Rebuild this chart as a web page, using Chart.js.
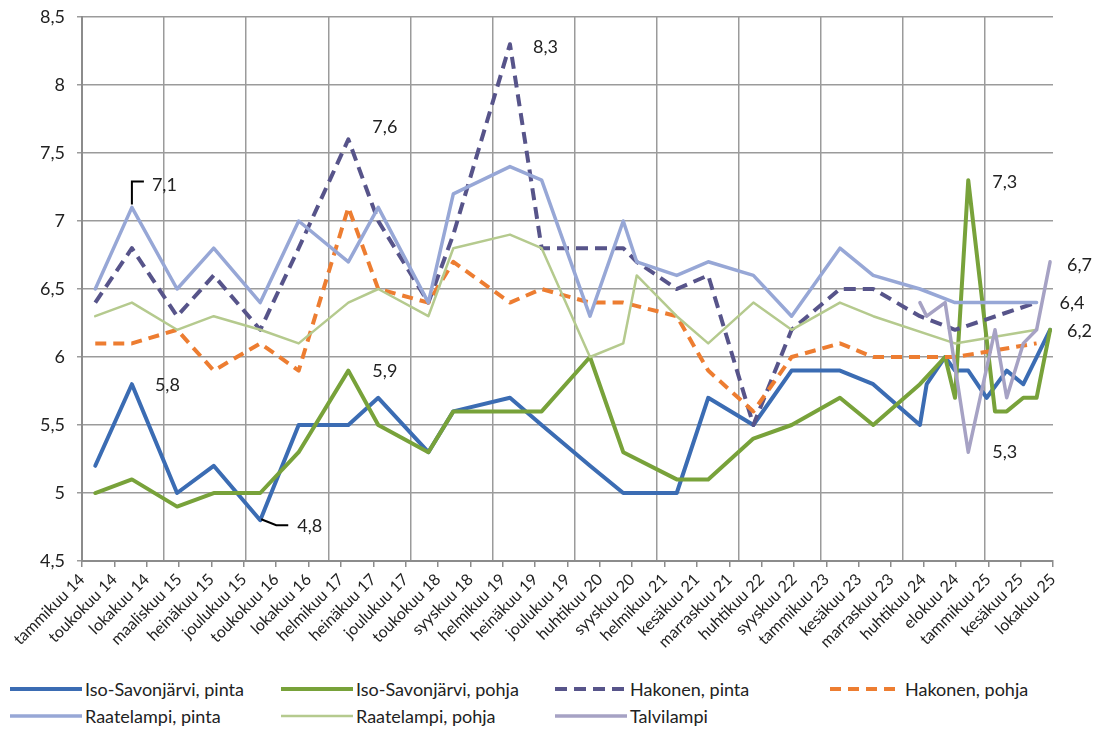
<!DOCTYPE html>
<html lang="fi">
<head>
<meta charset="utf-8">
<title>pH</title>
<script src="https://cdn.jsdelivr.net/npm/chart.js@4.4.1/dist/chart.umd.min.js"></script>
<style>
  html, body { margin: 0; padding: 0; background: #fff; }
  #wrap { position: relative; width: 1099px; height: 729px; overflow: hidden; }
  #chart { position: absolute; left: 0; top: 0; }
  #legend { position: absolute; left: 0; top: 676px; width: 1099px; font: 18px Lato, sans-serif; color: #222; }
  .item { position: absolute; display: flex; align-items: center; height: 26px; white-space: nowrap; }
  .item svg { margin-right: 3px; }
</style>
</head>
<body>
<div id="wrap">
  <canvas id="chart" width="1099" height="664"></canvas>
  <div id="legend"></div>
</div>
<script>
// Näytteenottopäivät (kaikille sarjoille yhteinen aikajana)
const sampleDates = [
  '2014-03-01', '2014-08-11', '2015-02-28', '2015-08-10', '2016-03-04', '2016-08-22',
  '2017-03-31', '2017-08-11', '2018-03-22', '2018-07-11', '2019-03-20', '2019-08-08',
  '2020-03-10', '2020-08-05', '2020-10-04', '2021-03-31', '2021-08-18', '2022-03-07',
  '2022-08-24', '2023-03-27', '2023-08-22', '2024-03-17', '2024-04-16', '2024-07-07',
  '2024-08-20', '2024-10-18', '2025-01-08', '2025-02-14', '2025-04-07', '2025-06-20',
  '2025-08-18', '2025-10-17'
];

// X-akselin nimiöt (144 päivän välein)
const tickLabels = [
  'tammikuu 14', 'toukokuu 14', 'lokakuu 14', 'maaliskuu 15', 'heinäkuu 15', 'joulukuu 15',
  'toukokuu 16', 'lokakuu 16', 'helmikuu 17', 'heinäkuu 17', 'joulukuu 17', 'toukokuu 18',
  'syyskuu 18', 'helmikuu 19', 'heinäkuu 19', 'joulukuu 19', 'huhtikuu 20', 'syyskuu 20',
  'helmikuu 21', 'kesäkuu 21', 'marraskuu 21', 'huhtikuu 22', 'syyskuu 22', 'tammikuu 23',
  'kesäkuu 23', 'marraskuu 23', 'huhtikuu 24', 'elokuu 24', 'tammikuu 25', 'kesäkuu 25',
  'lokakuu 25'
];

// pH-arvot
const isoSavonjarviPinta = [5.2, 5.8, 5.0, 5.2, 4.8, 5.5, 5.5, 5.7, 5.3, 5.6, 5.7, 5.5, 5.2, 5.0, 5.0, 5.0,
  5.7, 5.5, 5.9, 5.9, 5.8, 5.5, 5.8, 6.0, 5.9, 5.9, 5.7, null, 5.9, 5.8, null, 6.2];
const isoSavonjarviPohja = [5.0, 5.1, 4.9, 5.0, 5.0, 5.3, 5.9, 5.5, 5.3, 5.6, 5.6, 5.6, 6.0, 5.3, null, 5.1,
  5.1, 5.4, 5.5, 5.7, 5.5, 5.8, null, 6.0, 5.7, 7.3, null, 5.6, 5.6, 5.7, 5.7, 6.2];
const hakonenPinta = [6.4, 6.8, 6.3, 6.6, 6.2, 6.8, 7.6, 7.0, 6.4, 6.9, 8.3, 6.8, 6.8, 6.8, 6.7, 6.5,
  6.6, 5.5, 6.2, 6.5, 6.5, 6.3, null, null, 6.2, null, null, null, null, null, 6.4, null];
const hakonenPohja = [6.1, 6.1, 6.2, 5.9, 6.1, 5.9, 7.1, 6.5, 6.4, 6.7, 6.4, 6.5, 6.4, 6.4, null, 6.3,
  5.9, 5.6, 6.0, 6.1, 6.0, 6.0, null, null, 6.0, null, null, null, null, null, 6.1, null];
const raatelampiPinta = [6.5, 7.1, 6.5, 6.8, 6.4, 7.0, 6.7, 7.1, 6.4, 7.2, 7.4, 7.3, 6.3, 7.0, 6.7, 6.6,
  6.7, 6.6, 6.3, 6.8, 6.6, 6.5, null, null, 6.4, null, null, null, null, null, 6.4, null];
const raatelampiPohja = [6.3, 6.4, 6.2, 6.3, 6.2, 6.1, 6.4, 6.5, 6.3, 6.8, 6.9, 6.8, 6.0, 6.1, 6.6, 6.3,
  6.1, 6.4, 6.2, 6.4, 6.3, null, null, null, 6.1, null, null, null, null, null, 6.2, null];
const talvilampi = [null, null, null, null, null, null, null, null, null, null, null, null, null, null, null, null,
  null, null, null, null, null, 6.4, 6.3, 6.4, null, 5.3, null, 6.2, 5.7, 6.1, 6.2, 6.7];

// Arvot jotka näytetään kuvassa: [sarja, näytteen indeksi]
const shownValues = [
  [4, 1], [2, 6], [2, 10], [0, 1], [1, 6], [0, 4], [1, 25], [6, 25], [6, 31], [4, 30], [0, 31]
];

// Päivät vuoden 2014 alusta
const day0 = Date.UTC(2014, 0, 1);
function toDays(s) {
  const p = s.split('-').map(Number);
  return (Date.UTC(p[0], p[1] - 1, p[2]) - day0) / 86400000;
}
const xDays = sampleDates.map(toDays);
const yearStarts = [];
for (let y = 2014; y <= 2025; y++) yearStarts.push((Date.UTC(y, 0, 1) - day0) / 86400000);
const tickStep = 144;
const xMax = tickStep * (tickLabels.length - 1);

function points(values) {
  return values.map((v, i) => ({ x: xDays[i], y: v }));
}

const series = [
  { label: 'Iso-Savonjärvi, pinta', data: isoSavonjarviPinta, color: '#3b6cb3', width: 4, dash: [] },
  { label: 'Iso-Savonjärvi, pohja', data: isoSavonjarviPohja, color: '#78a23a', width: 4, dash: [] },
  { label: 'Hakonen, pinta', data: hakonenPinta, color: '#57548a', width: 4, dash: [12, 7] },
  { label: 'Hakonen, pohja', data: hakonenPohja, color: '#ed7d31', width: 4, dash: [11, 7] },
  { label: 'Raatelampi, pinta', data: raatelampiPinta, color: '#97a7d6', width: 3.5, dash: [] },
  { label: 'Raatelampi, pohja', data: raatelampiPohja, color: '#b5ca8e', width: 2.5, dash: [] },
  { label: 'Talvilampi', data: talvilampi, color: '#a6a2c4', width: 3.5, dash: [] }
];

const datasets = series.map((s, i) => ({
  label: s.label,
  data: points(s.data),
  borderColor: s.color,
  backgroundColor: s.color,
  borderWidth: s.width,
  borderDash: s.dash,
  borderCapStyle: s.dash.length ? 'butt' : 'round',
  borderJoinStyle: 'round',
  pointRadius: 0,
  tension: 0,
  spanGaps: true,
  order: series.length - i   // Excelin tapaan myöhemmät sarjat päälle
}));

// Arvojen nimiöt ja niiden viivat
const labelPlacement = {
  '4,1': { dx: 20, dy: -22, leader: [[0, -3], [0, -26], [12, -26]] },
  '2,6': { dx: 24, dy: -12 },
  '2,10': { dx: 23, dy: 3 },
  '0,1': { dx: 23, dy: 1 },
  '1,6': { dx: 24, dy: 1 },
  '0,4': { dx: 37, dy: 6, leader: [[1, -1], [16, 5], [28, 5]] },
  '1,25': { dx: 24, dy: 2 },
  '6,25': { dx: 24, dy: 0 },
  '6,31': { dx: 17, dy: 3 },
  '4,30': { dx: 23, dy: 1 },
  '0,31': { dx: 17, dy: 1 }
};

const valueLabels = {
  id: 'valueLabels',
  afterDatasetsDraw(chart) {
    const ctx = chart.ctx;
    ctx.save();
    ctx.font = '18px Lato, sans-serif';
    ctx.fillStyle = '#222';
    ctx.textAlign = 'left';
    ctx.textBaseline = 'middle';
    shownValues.forEach(([ds, idx]) => {
      const pt = chart.getDatasetMeta(ds).data[idx];
      const v = series[ds].data[idx];
      const pl = labelPlacement[ds + ',' + idx];
      if (pl.leader) {
        ctx.beginPath();
        ctx.strokeStyle = '#000';
        ctx.lineWidth = 2;
        pl.leader.forEach((p, k) => {
          if (k === 0) ctx.moveTo(pt.x + p[0], pt.y + p[1]);
          else ctx.lineTo(pt.x + p[0], pt.y + p[1]);
        });
        ctx.stroke();
      }
      ctx.fillText(String(v).replace('.', ','), pt.x + pl.dx, pt.y + pl.dy);
    });
    ctx.restore();
  }
};

const gridColor = '#9b9b9b';

new Chart(document.getElementById('chart'), {
  type: 'line',
  data: { datasets: datasets },
  plugins: [valueLabels],
  options: {
    responsive: false,
    animation: false,
    devicePixelRatio: 1,
    layout: { padding: { top: 17, right: 46, left: 0, bottom: 0 } },
    plugins: {
      legend: { display: false },
      tooltip: { enabled: false }
    },
    scales: {
      x: {
        type: 'linear',
        position: 'bottom',
        min: 0,
        max: xMax,
        afterBuildTicks: scale => {
          scale.ticks = tickLabels.map((_, i) => ({ value: i * tickStep }));
        },
        afterFit: scale => { scale.height = 103; },
        ticks: {
          autoSkip: false,
          minRotation: 45,
          maxRotation: 45,
          padding: 3,
          color: '#222',
          font: { family: 'Lato', size: 16 },
          callback: (value, index) => tickLabels[index]
        },
        grid: { drawOnChartArea: false, drawTicks: true, tickLength: 6, color: '#8c8c8c', lineWidth: 1.5 },
        border: { color: '#8c8c8c', width: 2 }
      },
      xYears: {
        type: 'linear',
        position: 'top',
        min: 0,
        max: xMax,
        afterBuildTicks: scale => {
          scale.ticks = yearStarts.map(v => ({ value: v }));
        },
        afterFit: scale => { scale.height = 0; scale.paddingTop = 0; scale.paddingBottom = 0; },
        ticks: { display: false },
        grid: { drawTicks: false, color: gridColor, lineWidth: 1.5 },
        border: { display: false }
      },
      y: {
        min: 4.5,
        max: 8.5,
        afterFit: scale => { scale.width = 82; scale.paddingTop = 0; scale.paddingBottom = 0; },
        ticks: {
          stepSize: 0.5,
          padding: 12,
          color: '#222',
          font: { family: 'Lato', size: 18 },
          callback: v => String(v).replace('.', ',')
        },
        grid: { color: gridColor, lineWidth: 1.5, tickLength: 5 },
        border: { color: '#8c8c8c', width: 2 }
      }
    }
  }
});

// Selite kahdelle riville, neljä saraketta
const legendCols = [10, 281, 555, 830];
const legend = document.getElementById('legend');
series.forEach((s, i) => {
  const item = document.createElement('div');
  item.className = 'item';
  item.style.left = legendCols[i % 4] + 'px';
  item.style.top = (Math.floor(i / 4) * 27) + 'px';
  const dash = s.dash.length ? ' stroke-dasharray="' + s.dash.join(' ') + '"' : '';
  item.innerHTML = '<svg width="72" height="10"><line x1="0" y1="5" x2="72" y2="5" stroke="' + s.color +
    '" stroke-width="' + s.width + '"' + dash + '/></svg><span>' + s.label + '</span>';
  legend.appendChild(item);
});
</script>
</body>
</html>
